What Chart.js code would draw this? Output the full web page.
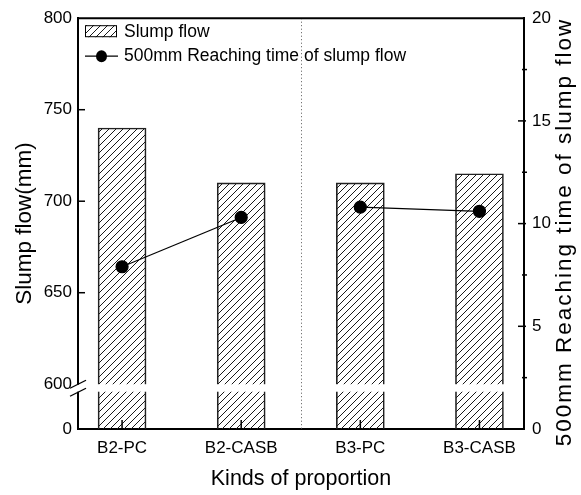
<!DOCTYPE html>
<html>
<head>
<meta charset="utf-8">
<script src="https://cdn.jsdelivr.net/npm/chart.js@4.4.1/dist/chart.umd.min.js"></script>
<style>
  html, body { margin: 0; padding: 0; background: #fff; }
  #wrap { width: 581px; height: 495px; }
</style>
</head>
<body>
<div id="wrap"><canvas id="chart" width="581" height="495"></canvas></div>
<script>
const categories = ['B2-PC', 'B2-CASB', 'B3-PC', 'B3-CASB'];
const groups = ['B2', 'B2', 'B3', 'B3'];
const slumpFlow = [740, 710, 710, 715];        // mm, left axis
const reachingTime = [7.9, 10.3, 10.8, 10.6];  // right axis
const slumpTicks = [0, 600, 650, 700, 750, 800];
const timeTicks = [0, 5, 10, 15, 20];
const timeMinorTicks = [2.5, 7.5, 12.5, 17.5];

const FONT = '"Liberation Sans", Arial, sans-serif';
const BREAK_AT = 600;     // left axis jumps from 0 to 600
const LOW_SHARE = 0.109;  // part of the axis height kept for 0..600

Chart.defaults.font.family = FONT;
Chart.defaults.color = '#000';

// left axis: normal above the break, squeezed below it
class BrokenLinearScale extends Chart.LinearScale {
  getPixelForValue(value) {
    if (value === null || value === undefined) return NaN;
    const v = +value;
    let dec;
    if (v <= BREAK_AT) {
      dec = v / BREAK_AT * LOW_SHARE;
    } else {
      dec = LOW_SHARE + (v - BREAK_AT) / (this.max - BREAK_AT) * (1 - LOW_SHARE);
    }
    return this.getPixelForDecimal(dec);
  }
  getValueForPixel(pixel) {
    const dec = this.getDecimalForPixel(pixel);
    if (dec <= LOW_SHARE) return dec / LOW_SHARE * BREAK_AT;
    return BREAK_AT + (dec - LOW_SHARE) / (1 - LOW_SHARE) * (this.max - BREAK_AT);
  }
}
BrokenLinearScale.id = 'brokenLinear';
Chart.register(BrokenLinearScale);

function makeHatch() {
  const s = 7;
  const tile = document.createElement('canvas');
  tile.width = tile.height = s;
  const c = tile.getContext('2d');
  c.strokeStyle = '#1a1a1a';
  c.lineWidth = 1;
  c.beginPath();
  c.moveTo(0, s); c.lineTo(s, 0);
  c.moveTo(-1, 1); c.lineTo(1, -1);
  c.moveTo(s - 1, s + 1); c.lineTo(s + 1, s - 1);
  c.stroke();
  return c.createPattern(tile, 'repeat');
}
const hatch = makeHatch();

function line(ctx, x1, y1, x2, y2) {
  ctx.beginPath();
  ctx.moveTo(x1, y1);
  ctx.lineTo(x2, y2);
  ctx.stroke();
}

const decor = {
  id: 'decor',
  beforeDatasetsDraw(chart) {
    const { ctx, chartArea: a, scales } = chart;
    // dotted divider between the B2 and B3 groups
    const x = Math.round(scales.x.getPixelForValue(1.5)) + 0.5;
    ctx.save();
    ctx.strokeStyle = '#555';
    ctx.lineWidth = 1;
    ctx.setLineDash([1, 2.5]);
    line(ctx, x, a.top, x, a.bottom);
    ctx.restore();
  },
  afterDatasetsDraw(chart) {
    const { ctx, chartArea: a, scales } = chart;
    const y0 = scales.y.getPixelForValue(BREAK_AT);
    ctx.save();
    // white band through the bars at the axis break
    ctx.fillStyle = '#fff';
    chart.getDatasetMeta(0).data.forEach(bar => {
      ctx.fillRect(bar.x - bar.width / 2 - 1, y0, bar.width + 2, 7.5);
    });
    // break in the left axis
    ctx.fillRect(a.left - 3, y0 + 0.5, 6, 7);
    ctx.strokeStyle = '#000';
    ctx.lineWidth = 1.3;
    line(ctx, a.left - 8, y0 + 4, a.left + 8, y0 - 4);
    line(ctx, a.left - 8, y0 + 12, a.left + 8, y0 + 4);
    ctx.restore();
  },
  afterDraw(chart) {
    const { ctx, chartArea: a, scales } = chart;
    ctx.save();
    ctx.strokeStyle = '#000';
    // top frame
    ctx.lineWidth = 2;
    line(ctx, a.left - 1, a.top, a.right + 1, a.top);
    // inward ticks
    ctx.lineWidth = 1.5;
    slumpTicks.filter(v => v > BREAK_AT && v < 800).forEach(v => {
      const y = scales.y.getPixelForValue(v);
      line(ctx, a.left, y, a.left + 7, y);
    });
    categories.forEach((_, i) => {
      const x = scales.x.getPixelForValue(i);
      line(ctx, x, a.bottom, x, a.bottom - 9);
    });
    timeTicks.filter(v => v > 0 && v < 20).forEach(v => {
      const y = scales.y1.getPixelForValue(v);
      line(ctx, a.right - 6, y, a.right + 2, y);
    });
    timeMinorTicks.forEach(v => {
      const y = scales.y1.getPixelForValue(v);
      line(ctx, a.right - 2, y, a.right + 3, y);
    });

    // legend inside the plot
    const ds = chart.data.datasets;
    const lx = a.left + 7;
    const r1 = a.top + 13;
    const r2 = a.top + 38;
    ctx.fillStyle = hatch;
    ctx.fillRect(lx, r1 - 6, 32, 12);
    ctx.lineWidth = 1;
    ctx.strokeRect(lx + 0.5, r1 - 5.5, 31, 11);
    ctx.lineWidth = 1.2;
    line(ctx, lx, r2, lx + 33, r2);
    ctx.fillStyle = '#000';
    ctx.beginPath();
    ctx.ellipse(lx + 16.5, r2, 5.5, 6, 0, 0, Math.PI * 2);
    ctx.fill();
    ctx.font = '17.5px ' + FONT;
    ctx.textAlign = 'left';
    ctx.textBaseline = 'middle';
    ctx.fillText(ds[0].label, lx + 39, r1 + 1);
    ctx.fillText(ds[1].label, lx + 39, r2);

    // right axis title, reading bottom to top
    ctx.translate(565, 232);
    ctx.rotate(-Math.PI / 2);
    ctx.font = '22.5px ' + FONT;
    ctx.textAlign = 'center';
    ctx.letterSpacing = '2px';
    ctx.fillText('500mm Reaching time of slump flow', 0, 0);
    ctx.restore();
  }
};

new Chart(document.getElementById('chart'), {
  type: 'bar',
  data: {
    datasets: [
      {
        type: 'bar',
        label: 'Slump flow',
        data: categories.map((c, i) => ({ x: i, y: slumpFlow[i] })),
        yAxisID: 'y',
        backgroundColor: hatch,
        borderColor: '#222',
        borderWidth: 1,
        barThickness: 48,
        order: 2
      },
      {
        type: 'line',
        label: '500mm Reaching time of slump flow',
        data: categories.map((c, i) => ({ x: i, y: reachingTime[i] })),
        yAxisID: 'y1',
        borderColor: '#000',
        borderWidth: 1.2,
        pointRadius: 6,
        pointBackgroundColor: '#000',
        pointBorderColor: '#000',
        segment: {
          borderColor: ctx => groups[ctx.p0DataIndex] === groups[ctx.p1DataIndex] ? '#000' : 'rgba(0,0,0,0)'
        },
        order: 1
      }
    ]
  },
  options: {
    responsive: false,
    animation: false,
    layout: { padding: { top: 16, left: 0, right: 0, bottom: 0 } },
    plugins: {
      legend: { display: false },
      tooltip: { enabled: false }
    },
    scales: {
      x: {
        type: 'linear',
        offset: false,
        bounds: 'data',
        min: -0.37,
        max: 3.374,
        grid: { display: false, drawTicks: false, offset: false },
        border: { display: true, width: 2, color: '#000' },
        afterBuildTicks: s => { s.ticks = categories.map((_, i) => ({ value: i })); },
        ticks: {
          autoSkip: false,
          maxRotation: 0,
          padding: 9,
          font: { size: 17 },
          callback: v => categories[v]
        },
        title: {
          display: true,
          text: 'Kinds of proportion',
          font: { size: 21.5 },
          padding: { top: 0, bottom: 3 }
        },
        afterFit: s => { s.height = 66; }
      },
      y: {
        type: 'brokenLinear',
        position: 'left',
        min: 0,
        max: 800,
        grid: { display: false, drawTicks: false },
        border: { display: true, width: 2, color: '#000' },
        afterBuildTicks: s => { s.ticks = slumpTicks.map(v => ({ value: v })); },
        ticks: { padding: 6, font: { size: 17 } },
        title: {
          display: true,
          text: 'Slump flow(mm)',
          font: { size: 22.5 },
          padding: { top: 11, bottom: 0 }
        },
        afterFit: s => { s.width = 78; }
      },
      y1: {
        type: 'linear',
        position: 'right',
        min: 0,
        max: 20,
        grid: { display: false, drawTicks: false },
        border: { display: true, width: 2, color: '#000' },
        afterBuildTicks: s => { s.ticks = timeTicks.map(v => ({ value: v })); },
        ticks: { padding: 8, font: { size: 17 } },
        afterFit: s => { s.width = 57; }
      }
    }
  },
  plugins: [decor]
});
</script>
</body>
</html>
